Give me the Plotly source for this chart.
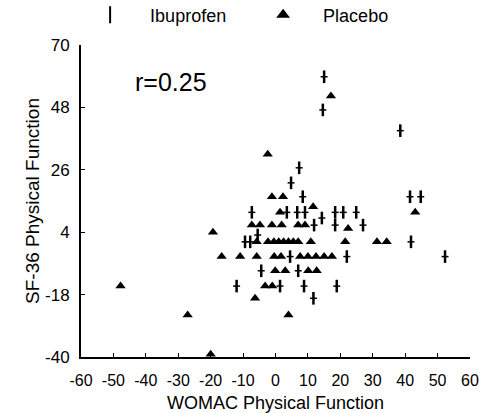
import plotly.graph_objects as go

# Ibuprofen points (WOMAC change, SF-36 change)
ibu_x = [15.0, 14.6, 38.5, 7.3, 4.8,
         8.4, 41.5, 44.8,
         -7.3, 3.5, 6.7, 9.1, 14.3, 18.4, 20.9, 24.9,
         11.9, 18.4, 27.0, -5.5,
         -9.4, -7.8, 41.8,
         4.5, 22.0, 52.3,
         -4.4, 7.0,
         -12.0, 1.4, 8.8, 18.9,
         11.7]
ibu_y = [58.8, 47.1, 39.8, 26.7, 21.4,
         16.5, 16.5, 16.5,
         11.0, 11.0, 11.0, 11.0, 9.0, 11.0, 11.0, 11.0,
         6.5, 6.5, 6.5, 3.0,
         0.6, 0.6, 0.6,
         -4.6, -4.6, -4.6,
         -9.6, -9.6,
         -15.0, -15.0, -15.0, -15.0,
         -19.3]

# Placebo points
pla_x = [17.1, -2.4,
         -1.1, 2.3,
         1.4, 11.6, 43.1,
         -7.3, -4.8, -1.1, 1.9, 7.0, 9.1, 22.4,
         -19.3,
         -5.8, -2.3, -0.5, 1.0, 2.5, 4.0, 5.5, 7.0, 10.9, 21.5, 31.3, 34.3,
         -16.6, -10.9, -5.8, -0.4, 1.7, 7.6, 10.0, 12.5, 15.0, 17.4,
         -0.1, 3.0, 10.1, 12.7,
         -47.8, -3.2, -1.0,
         -6.3,
         -27.1, 4.0,
         -20.0]
pla_y = [52.0, 31.5,
         16.5, 16.5,
         11.0, 13.0, 11.0,
         6.5, 6.5, 6.5, 6.5, 6.5, 6.5, 5.3,
         4.0,
         0.6, 0.6, 0.6, 0.6, 0.6, 0.6, 0.6, 0.6, 0.6, 0.6, 0.6, 0.6,
         -4.6, -4.6, -4.6, -4.6, -4.6, -4.6, -4.6, -4.6, -4.6, -4.6,
         -9.6, -9.6, -9.6, -9.6,
         -15.0, -15.0, -15.0,
         -19.3,
         -25.2, -25.2,
         -39.0]

x_ticks = [-60, -50, -40, -30, -20, -10, 0, 10, 20, 30, 40, 50, 60]
y_ticks = [-40, -18, 4, 26, 48, 70]
r_label = "r=0.25"

FONT = "Liberation Sans, Arial, Helvetica, sans-serif"

fig = go.Figure()
fig.add_trace(go.Scatter(
    x=ibu_x, y=ibu_y, mode="markers", name="Ibuprofen", legendgroup="ibu",
    marker=dict(symbol="line-ns", size=9, line=dict(color="black", width=2.5), color="black"),
))
fig.add_trace(go.Scatter(
    x=ibu_x, y=ibu_y, mode="markers", name="Ibuprofen", legendgroup="ibu", showlegend=False,
    marker=dict(symbol="line-ew", size=5, line=dict(color="black", width=1.5), color="black"),
))
fig.add_trace(go.Scatter(
    x=pla_x, y=pla_y, mode="markers", name="Placebo",
    marker=dict(symbol="triangle-up", size=9, color="black", line=dict(width=0)),
))

fig.add_annotation(x=-44, y=57, text=r_label, showarrow=False,
                   font=dict(size=25, color="black", family=FONT), xanchor="left", yanchor="middle")

fig.update_layout(
    width=481, height=413,
    margin=dict(l=81, r=11, t=45, b=56, autoexpand=False),
    paper_bgcolor="white", plot_bgcolor="white",
    font=dict(family=FONT, color="black"),
    showlegend=True,
    legend=dict(orientation="h", x=-0.028, xanchor="left", y=1.096, yanchor="middle",
                font=dict(size=18, color="black"), entrywidth=88, entrywidthmode="pixels",
                itemwidth=70,
                bgcolor="rgba(0,0,0,0)", itemsizing="constant"),
    xaxis=dict(range=[-60, 60], tickvals=x_ticks, ticktext=[str(v) for v in x_ticks],
               showline=True, linecolor="black", linewidth=2, ticks="inside", ticklen=4,
               tickcolor="black", showgrid=False, zeroline=False, mirror=False,
               tickfont=dict(size=16, color="black"), ticklabelstandoff=8,
               title=dict(text="WOMAC Physical Function", font=dict(size=18, color="black"), standoff=10)),
    yaxis=dict(range=[-40, 70], tickvals=y_ticks, ticktext=[str(v) for v in y_ticks],
               showline=True, linecolor="black", linewidth=2, ticks="inside", ticklen=4,
               tickcolor="black", showgrid=False, zeroline=False, mirror=False,
               tickfont=dict(size=17, color="black"), ticklabelstandoff=6,
               title=dict(text="SF-36 Physical Function", font=dict(size=19, color="black"), standoff=0)),
)

fig.write_html("out.html")
